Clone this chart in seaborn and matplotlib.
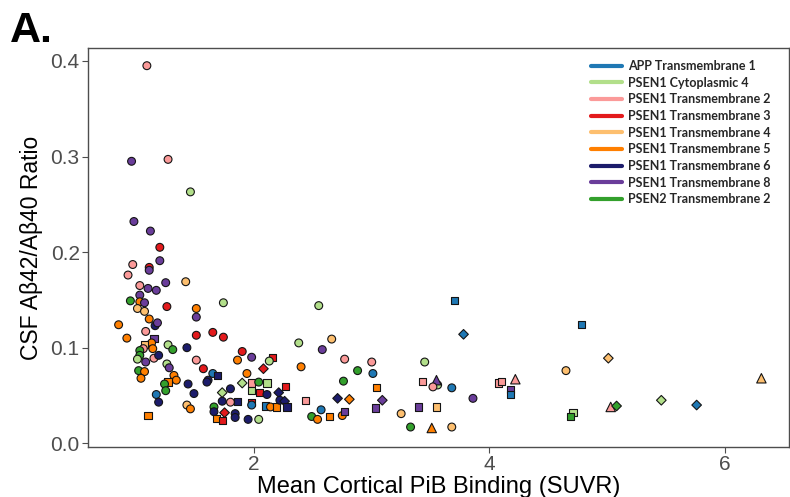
import matplotlib
matplotlib.use("Agg")
import matplotlib.pyplot as plt
from matplotlib.lines import Line2D
import pandas as pd
import seaborn as sns

# Mutation domains (legend order) and their colours
domain_labels = [
    "APP Transmembrane 1", "PSEN1 Cytoplasmic 4", "PSEN1 Transmembrane 2",
    "PSEN1 Transmembrane 3", "PSEN1 Transmembrane 4", "PSEN1 Transmembrane 5",
    "PSEN1 Transmembrane 6", "PSEN1 Transmembrane 8", "PSEN2 Transmembrane 2",
]
domain_codes = ["B", "LG", "PK", "R", "LO", "O", "N", "P", "G"]
domain_colors = ["#1f78b4", "#b2df8a", "#fb9a99", "#e31a1c", "#fdbf6f",
                 "#ff7f00", "#1c1c6b", "#6a3d9a", "#33a02c"]

# Mean cortical PiB SUVR per participant
pib = [
    1.09, 0.96, 1.27, 1.46, 0.98, 1.12, 1.20, 1.20, 0.97, 1.11,
    1.11, 0.93, 1.25, 1.42, 1.03, 1.10, 1.17, 1.03, 0.95, 1.03,
    1.07, 1.01, 1.07, 1.26, 1.74, 1.51, 1.51, 1.11, 1.16, 1.18,
    0.85, 1.08, 0.92, 1.15, 1.51, 1.65, 1.74, 1.13, 1.07, 1.14,
    1.06, 1.03, 1.03, 1.01, 1.08, 1.15, 1.19, 1.27, 1.31, 1.43,
    1.51, 1.26, 1.28, 1.02, 1.07, 1.04, 1.32, 1.34, 1.27, 1.24,
    1.25, 1.44, 1.49, 1.17, 1.19, 1.43, 1.46, 1.10, 1.57, 1.65,
    1.69, 1.61, 1.60, 1.90, 1.98, 1.86, 2.16, 2.13, 2.08, 1.94,
    1.90, 1.98, 2.04, 2.11, 1.98, 2.05, 2.11, 2.21, 2.27, 1.73,
    1.80, 1.73, 1.80, 1.86, 1.98, 1.98, 2.10, 2.14, 2.19, 2.22,
    2.26, 2.28, 1.66, 1.66, 1.75, 1.84, 1.84, 1.95, 2.04, 1.68,
    1.73, 2.38, 2.55, 2.66, 2.58, 2.40, 2.77, 3.00, 2.88, 3.01,
    2.76, 3.04, 2.44, 2.71, 2.81, 3.09, 3.03, 2.57, 2.49, 2.54,
    2.64, 2.75, 2.77, 3.25, 3.33, 3.70, 3.78, 3.45, 3.43, 3.56,
    3.55, 3.52, 3.68, 3.86, 4.08, 4.10, 4.22, 4.18, 4.18, 3.40,
    3.55, 3.51, 3.68, 4.78, 5.01, 4.65, 4.71, 4.69, 5.03, 5.08,
    5.46, 5.76, 6.31,
]

# CSF Abeta42/Abeta40 ratio per participant
ab_ratio = [
    0.395, 0.295, 0.297, 0.263, 0.232, 0.222, 0.205, 0.191, 0.187, 0.184,
    0.181, 0.176, 0.168, 0.169, 0.165, 0.162, 0.160, 0.155, 0.149, 0.148,
    0.147, 0.141, 0.138, 0.143, 0.147, 0.141, 0.132, 0.130, 0.123, 0.126,
    0.124, 0.117, 0.110, 0.110, 0.113, 0.116, 0.111, 0.105, 0.103, 0.099,
    0.099, 0.097, 0.092, 0.088, 0.085, 0.089, 0.092, 0.103, 0.098, 0.100,
    0.087, 0.083, 0.079, 0.076, 0.075, 0.068, 0.071, 0.066, 0.064, 0.062,
    0.055, 0.062, 0.052, 0.051, 0.043, 0.040, 0.036, 0.029, 0.078, 0.073,
    0.071, 0.066, 0.064, 0.096, 0.090, 0.087, 0.090, 0.086, 0.078, 0.073,
    0.063, 0.063, 0.064, 0.063, 0.055, 0.053, 0.051, 0.053, 0.059, 0.053,
    0.057, 0.044, 0.043, 0.044, 0.043, 0.040, 0.039, 0.038, 0.038, 0.045,
    0.044, 0.038, 0.038, 0.033, 0.032, 0.031, 0.027, 0.025, 0.025, 0.026,
    0.024, 0.105, 0.144, 0.109, 0.098, 0.080, 0.088, 0.085, 0.076, 0.073,
    0.065, 0.058, 0.045, 0.047, 0.046, 0.045, 0.037, 0.035, 0.028, 0.025,
    0.028, 0.029, 0.033, 0.031, 0.017, 0.149, 0.114, 0.085, 0.065, 0.061,
    0.066, 0.059, 0.058, 0.047, 0.063, 0.065, 0.067, 0.056, 0.051, 0.038,
    0.038, 0.016, 0.017, 0.124, 0.089, 0.076, 0.032, 0.028, 0.038, 0.039,
    0.045, 0.040, 0.068,
]

# Mutation domain of each participant
domain = [
    "PK", "P", "PK", "LG", "P", "P", "R", "P", "PK", "R",
    "P", "PK", "P", "LO", "PK", "P", "P", "P", "G", "O",
    "P", "LO", "LO", "R", "LG", "O", "P", "O", "N", "P",
    "O", "PK", "O", "P", "R", "R", "R", "O", "LO", "O",
    "PK", "G", "G", "LG", "P", "PK", "N", "LG", "G", "N",
    "PK", "LG", "P", "G", "O", "O", "O", "O", "O", "G",
    "G", "N", "N", "B", "N", "LO", "O", "O", "R", "B",
    "N", "N", "N", "R", "P", "O", "R", "LG", "R", "O",
    "LG", "PK", "G", "LG", "LG", "R", "N", "N", "R", "LG",
    "N", "N", "PK", "N", "R", "B", "B", "O", "O", "N",
    "N", "N", "G", "N", "R", "N", "N", "N", "LG", "O",
    "R", "LG", "LG", "LO", "P", "O", "PK", "PK", "G", "B",
    "G", "O", "PK", "N", "O", "P", "P", "B", "G", "O",
    "O", "O", "P", "LO", "G", "B", "B", "LG", "PK", "LG",
    "P", "PK", "B", "P", "PK", "PK", "PK", "P", "B", "P",
    "LO", "O", "LO", "B", "LO", "LO", "LG", "G", "PK", "G",
    "LG", "B", "LO",
]

# Participant group (drawn as marker shape)
group = [
    "G1", "G1", "G1", "G1", "G1", "G1", "G1", "G1", "G1", "G1",
    "G1", "G1", "G1", "G1", "G1", "G1", "G1", "G1", "G1", "G1",
    "G1", "G1", "G1", "G1", "G1", "G1", "G1", "G1", "G1", "G1",
    "G1", "G1", "G1", "G2", "G1", "G1", "G1", "G1", "G2", "G1",
    "G1", "G1", "G1", "G1", "G1", "G1", "G1", "G1", "G1", "G1",
    "G1", "G1", "G1", "G1", "G1", "G1", "G1", "G1", "G2", "G1",
    "G1", "G1", "G1", "G1", "G1", "G1", "G1", "G2", "G1", "G1",
    "G2", "G1", "G1", "G1", "G1", "G1", "G2", "G1", "G3", "G1",
    "G3", "G2", "G1", "G2", "G2", "G2", "G1", "G3", "G2", "G3",
    "G1", "G1", "G1", "G2", "G2", "G1", "G2", "G1", "G2", "G1",
    "G3", "G2", "G1", "G1", "G3", "G1", "G1", "G1", "G1", "G2",
    "G2", "G1", "G1", "G1", "G1", "G1", "G1", "G1", "G1", "G1",
    "G1", "G2", "G2", "G3", "G3", "G3", "G2", "G1", "G1", "G1",
    "G2", "G1", "G2", "G1", "G1", "G2", "G3", "G1", "G2", "G1",
    "G4", "G1", "G1", "G1", "G2", "G2", "G4", "G2", "G2", "G2",
    "G2", "G4", "G1", "G2", "G3", "G1", "G2", "G2", "G4", "G3",
    "G3", "G3", "G4",
]

code_to_label = dict(zip(domain_codes, domain_labels))
palette = dict(zip(domain_labels, domain_colors))
markers = {"G1": "o", "G2": "s", "G3": "D", "G4": "^"}
marker_area = {"G1": 32, "G2": 27, "G3": 24, "G4": 46}

df = pd.DataFrame({
    "pib": pib,
    "ratio": ab_ratio,
    "domain": [code_to_label[c] for c in domain],
    "group": group,
})

sns.set_theme(style="white")
plt.rcParams["font.family"] = ["Liberation Sans", "DejaVu Sans"]

fig = plt.figure(figsize=(7.9, 4.97), dpi=100)
ax = fig.add_axes([0.1114, 0.1006, 0.8874, 0.8028])

sns.scatterplot(
    data=df, x="pib", y="ratio", hue="domain", style="group", size="group",
    palette=palette, markers=markers, sizes=marker_area,
    hue_order=domain_labels, edgecolor="#141414", linewidth=0.8,
    legend=False, ax=ax, zorder=3,
)

ax.set_xlim(0.59, 6.545)
ax.set_ylim(-0.0039, 0.4135)
ax.set_xticks([2, 4, 6])
ax.set_yticks([0.0, 0.1, 0.2, 0.3, 0.4])
ax.set_yticklabels(["0.0", "0.1", "0.2", "0.3", "0.4"])
ax.tick_params(axis="both", which="major", length=4, width=0.8,
               color="#4d4d4d", labelcolor="#4d4d4d", labelsize=15, pad=2,
               left=True, bottom=True)
for side in ["left", "bottom", "top", "right"]:
    ax.spines[side].set_color("#4d4d4d")
    ax.spines[side].set_linewidth(1.0)
ax.grid(False)

ax.set_xlabel("Mean Cortical PiB Binding (SUVR)", fontsize=17, color="black",
              labelpad=1)
ax.set_ylabel("CSF A\u03b242/A\u03b240 Ratio", fontsize=16.5, color="black",
              labelpad=5)

handles = [Line2D([0], [0], color=c, lw=3) for c in domain_colors]
leg = ax.legend(
    handles, domain_labels, loc="upper left",
    bbox_to_anchor=(0.748, 0.879), bbox_transform=fig.transFigure,
    frameon=False, handlelength=2.45, handletextpad=0.55, labelspacing=0.37,
    borderpad=0, borderaxespad=0,
    prop={"family": ["Lato", "DejaVu Sans"], "weight": "bold", "size": 9},
)

fig.text(0.012, 0.9155, "A.", fontsize=31, fontweight="bold",
         family=["Liberation Sans", "DejaVu Sans"], color="black")

fig.savefig("out.png", dpi=100)
